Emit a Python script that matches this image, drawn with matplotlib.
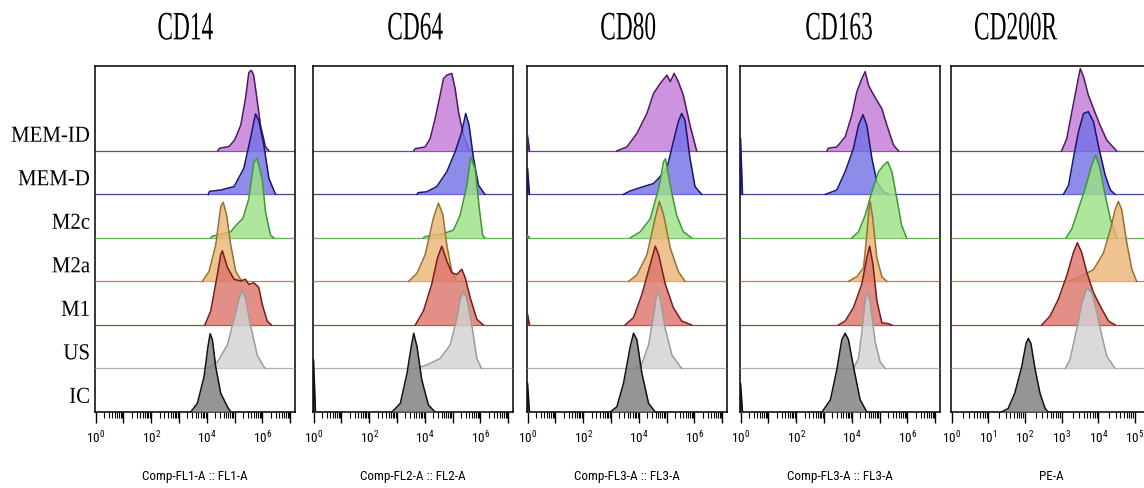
import numpy as np
import matplotlib
matplotlib.use("Agg")
import matplotlib.pyplot as plt
from matplotlib.patheffects import AbstractPathEffect
from matplotlib.transforms import Affine2D, blended_transform_factory

# ---------------------------------------------------------------- data
POPULATIONS = ["MEM-ID", "MEM-D", "M2c", "M2a", "M1", "US", "IC"]
MARKERS = ["CD14", "CD64", "CD80", "CD163", "CD200R"]
CHANNELS = ["Comp-FL1-A :: FL1-A", "Comp-FL2-A :: FL2-A", "Comp-FL3-A :: FL3-A",
            "Comp-FL3-A :: FL3-A", "PE-A"]
MAX_DECADE = [7, 7, 7, 7, 5]
LABELED_DECADES = [[0, 2, 4, 6], [0, 2, 4, 6], [0, 2, 4, 6], [0, 2, 4, 6], [0, 1, 2, 3, 4, 5]]

# each series: (log10 fluorescence, mode-normalised height in row units)
CD14 = {
    "MEM-ID": ([4.40, 4.45, 4.80, 5.00, 5.22, 5.39, 5.51, 5.60, 5.68, 5.77, 5.93, 6.11, 6.23],
               [0, 0.06, 0.10, 0.25, 0.59, 1.20, 1.80, 1.85, 1.75, 1.35, 0.59, 0.09, 0]),
    "MEM-D": ([4.05, 4.10, 4.50, 4.98, 5.33, 5.57, 5.75, 5.87, 6.05, 6.23, 6.47],
              [0, 0.07, 0.10, 0.18, 0.60, 1.29, 1.85, 1.70, 1.13, 0.37, 0]),
    "M2c": ([4.14, 4.20, 4.86, 5.05, 5.30, 5.51, 5.69, 5.81, 5.99, 6.11, 6.29, 6.41],
            [0, 0.04, 0.14, 0.29, 0.45, 0.90, 1.75, 1.82, 1.36, 0.60, 0.06, 0]),
    "M2a": ([3.84, 4.08, 4.32, 4.50, 4.59, 4.71, 4.86, 5.04, 5.22, 5.33],
            [0, 0.23, 0.84, 1.72, 1.82, 1.53, 0.84, 0.23, 0.04, 0]),
    "M1": ([3.93, 4.14, 4.38, 4.50, 4.56, 4.74, 4.98, 5.22, 5.39, 5.51, 5.69, 5.87, 5.99, 6.17, 6.32],
           [0, 0.32, 1.16, 1.62, 1.70, 1.32, 1.05, 1.01, 1.05, 0.93, 0.97, 0.86, 0.48, 0.09, 0]),
    "US": ([4.02, 4.38, 4.74, 4.98, 5.16, 5.28, 5.39, 5.57, 5.81, 6.05, 6.11],
           [0, 0.15, 0.54, 1.15, 1.61, 1.80, 1.61, 1.00, 0.31, 0.04, 0]),
    "IC": ([3.42, 3.66, 3.90, 4.04, 4.12, 4.20, 4.32, 4.50, 4.74, 4.86],
           [0, 0.20, 0.81, 1.50, 1.80, 1.66, 1.04, 0.43, 0.12, 0]),
}

CD64 = {
    "MEM-ID": ([3.60, 3.65, 4.01, 4.19, 4.37, 4.55, 4.67, 4.79, 4.97, 5.09, 5.21, 5.39, 5.57, 5.69],
               [0, 0.05, 0.09, 0.28, 0.74, 1.28, 1.66, 1.74, 1.78, 1.43, 0.90, 0.36, 0.05, 0]),
    "MEM-D": ([3.72, 3.76, 4.07, 4.43, 4.79, 5.09, 5.33, 5.47, 5.59, 5.75, 5.93, 6.16],
              [0, 0.04, 0.06, 0.18, 0.52, 0.98, 1.44, 1.86, 1.59, 0.83, 0.21, 0]),
    "M2c": ([3.95, 4.00, 4.67, 5.03, 5.27, 5.51, 5.65, 5.81, 5.96, 6.08, 6.16],
            [0, 0.03, 0.10, 0.18, 0.52, 1.21, 1.86, 1.59, 0.67, 0.06, 0]),
    "M2a": ([3.42, 3.72, 4.01, 4.31, 4.49, 4.65, 4.79, 4.97, 5.15],
            [0, 0.19, 0.61, 1.46, 1.80, 1.53, 0.84, 0.23, 0]),
    "M1": ([3.66, 3.95, 4.25, 4.46, 4.61, 4.79, 4.97, 5.15, 5.33, 5.45, 5.63, 5.87, 6.10],
           [0, 0.32, 0.94, 1.55, 1.81, 1.47, 1.20, 1.16, 1.28, 1.09, 0.63, 0.13, 0]),
    "US": ([3.66, 4.07, 4.55, 4.91, 5.15, 5.27, 5.39, 5.51, 5.69, 5.87, 6.04],
           [0, 0.08, 0.23, 0.54, 1.15, 1.61, 1.76, 1.61, 1.00, 0.23, 0]),
    "IC": ([0.0, 0.0, 0.07, 2.82, 3.12, 3.36, 3.51, 3.60, 3.72, 3.89, 4.13, 4.37],
           [0, 1.20, 0, 0, 0.20, 0.89, 1.50, 1.81, 1.50, 0.74, 0.16, 0]),
}

CD80 = {
    "MEM-ID": ([0.0, 0.0, 0.07, 3.21, 3.57, 3.93, 4.29, 4.53, 4.77, 5.01, 5.13, 5.27, 5.42, 5.60, 5.84, 6.08],
               [0, 0.36, 0, 0, 0.09, 0.40, 0.86, 1.32, 1.55, 1.74, 1.59, 1.78, 1.59, 1.28, 0.59, 0]),
    "MEM-D": ([0.0, 0.0, 0.07, 3.45, 3.69, 4.17, 4.53, 4.71, 5.01, 5.24, 5.42, 5.54, 5.66, 5.84, 6.02, 6.26],
              [0, 0.60, 0, 0, 0.08, 0.18, 0.25, 0.37, 0.60, 1.21, 1.67, 1.86, 1.70, 0.83, 0.18, 0]),
    "M2c": ([0.0, 0.0, 0.07, 3.69, 4.05, 4.41, 4.71, 4.89, 4.96, 5.13, 5.36, 5.60, 5.90],
            [0, 0.06, 0, 0, 0.14, 0.44, 1.13, 1.75, 1.82, 1.21, 0.52, 0.14, 0]),
    "M2a": ([3.63, 3.93, 4.29, 4.59, 4.74, 4.89, 5.13, 5.42, 5.66],
            [0, 0.15, 0.61, 1.46, 1.84, 1.53, 0.77, 0.23, 0]),
    "M1": ([0.0, 0.0, 0.07, 3.51, 3.81, 4.11, 4.41, 4.59, 4.71, 4.95, 5.24, 5.54, 5.90],
           [0, 0.25, 0, 0, 0.17, 0.70, 1.39, 1.81, 1.62, 0.94, 0.40, 0.09, 0]),
    "US": ([3.87, 4.11, 4.35, 4.53, 4.65, 4.77, 4.95, 5.19, 5.54],
           [0, 0.11, 0.54, 1.23, 1.76, 1.61, 0.92, 0.31, 0]),
    "IC": ([0.0, 0.0, 0.07, 2.97, 3.21, 3.45, 3.69, 3.81, 3.93, 4.11, 4.35, 4.59],
           [0, 0.66, 0, 0, 0.12, 0.66, 1.50, 1.81, 1.66, 0.89, 0.20, 0]),
}

CD163 = {
    "MEM-ID": ([3.11, 3.15, 3.46, 3.76, 4.00, 4.18, 4.36, 4.48, 4.60, 4.72, 4.90, 5.08, 5.26, 5.50, 5.68],
               [0, 0.06, 0.09, 0.32, 0.82, 1.36, 1.66, 1.82, 1.51, 1.36, 1.16, 0.97, 0.59, 0.13, 0]),
    "MEM-D": ([0.0, 0.0, 0.07, 3.05, 3.46, 3.76, 4.06, 4.24, 4.40, 4.54, 4.72, 4.90, 5.14, 5.32],
              [0, 1.29, 0, 0, 0.10, 0.52, 1.06, 1.59, 1.83, 1.59, 0.83, 0.29, 0.06, 0]),
    "M2c": ([4.00, 4.24, 4.48, 4.72, 4.96, 5.14, 5.29, 5.44, 5.62, 5.79, 5.97],
            [0, 0.14, 0.52, 1.06, 1.52, 1.67, 1.75, 1.52, 0.90, 0.29, 0]),
    "M2a": ([3.88, 4.18, 4.42, 4.54, 4.62, 4.66, 4.75, 4.90, 5.08, 5.26],
            [0, 0.11, 0.31, 1.07, 1.69, 1.84, 1.46, 0.54, 0.11, 0]),
    "M1": ([3.52, 3.76, 4.06, 4.36, 4.54, 4.64, 4.76, 4.90, 5.08, 5.30, 5.44],
           [0, 0.09, 0.40, 0.94, 1.55, 1.81, 1.39, 0.56, 0.05, 0.03, 0]),
    "US": ([4.06, 4.24, 4.36, 4.48, 4.54, 4.66, 4.84, 5.02, 5.20],
           [0, 0.23, 0.84, 1.61, 1.76, 1.53, 0.61, 0.15, 0]),
    "IC": ([0.0, 0.0, 0.07, 2.93, 3.23, 3.46, 3.64, 3.76, 3.88, 4.06, 4.30, 4.54],
           [0, 0.66, 0, 0, 0.28, 0.97, 1.66, 1.81, 1.66, 1.04, 0.28, 0]),
}

CD200R = {
    "MEM-ID": ([3.00, 3.14, 3.28, 3.42, 3.51, 3.60, 3.73, 3.87, 4.05, 4.23, 4.50],
               [0, 0.28, 0.90, 1.51, 1.89, 1.70, 1.28, 0.97, 0.59, 0.25, 0]),
    "MEM-D": ([3.05, 3.19, 3.32, 3.46, 3.60, 3.73, 3.87, 4.00, 4.19, 4.33, 4.46],
              [0, 0.21, 0.83, 1.44, 1.86, 1.90, 1.67, 1.13, 0.44, 0.10, 0]),
    "M2c": ([3.12, 3.28, 3.46, 3.64, 3.82, 3.93, 4.05, 4.19, 4.33, 4.51],
            [0, 0.21, 0.67, 1.13, 1.67, 1.90, 1.59, 0.98, 0.44, 0]),
    "M2a": ([3.19, 3.51, 3.87, 4.14, 4.33, 4.46, 4.55, 4.64, 4.78, 4.92, 5.05],
            [0, 0.11, 0.27, 0.65, 1.19, 1.65, 1.84, 1.65, 0.88, 0.27, 0]),
    "M1": ([2.46, 2.69, 2.91, 3.14, 3.32, 3.43, 3.55, 3.69, 3.87, 4.10, 4.28, 4.46],
           [0, 0.21, 0.59, 1.13, 1.66, 1.89, 1.66, 1.20, 0.74, 0.36, 0.09, 0]),
    "US": ([3.10, 3.23, 3.41, 3.55, 3.69, 3.83, 3.96, 4.10, 4.23, 4.46],
           [0, 0.21, 0.90, 1.51, 1.86, 1.74, 1.29, 0.75, 0.29, 0]),
    "IC": ([1.36, 1.54, 1.72, 1.91, 2.03, 2.09, 2.16, 2.28, 2.41, 2.55, 2.63],
           [0, 0.08, 0.43, 1.04, 1.58, 1.69, 1.58, 0.97, 0.43, 0.08, 0]),
}

PANEL_DATA = [CD14, CD64, CD80, CD163, CD200R]

FILL_COLORS = {"MEM-ID": "#C47BD8", "MEM-D": "#7573E6", "M2c": "#9CE287", "M2a": "#EBB676",
               "M1": "#DC776E", "US": "#D2D2D2", "IC": "#7E7E7E"}
EDGE_COLORS = {"MEM-ID": "#4E1763", "MEM-D": "#17166E", "M2c": "#3E9A2C", "M2a": "#9A7030",
               "M1": "#7A1B17", "US": "#9C9C9C", "IC": "#111111"}

# ---------------------------------------------------------------- styling helpers
class Squeeze(AbstractPathEffect):
    """Horizontally condense a text's glyphs (the reference uses a narrow serif face)."""
    def __init__(self, sx, anchor="center"):
        super().__init__()
        self._sx = sx
        self._anchor = anchor

    def draw_path(self, renderer, gc, tpath, affine, rgbFace=None):
        ext = tpath.get_extents(affine)
        if self._anchor == "right":
            cx = ext.x1
        elif self._anchor == "left":
            cx = ext.x0
        else:
            cx = 0.5 * (ext.x0 + ext.x1)
        t = affine + Affine2D().translate(-cx, 0).scale(self._sx, 1.0).translate(cx, 0)
        renderer.draw_path(gc, tpath, t, rgbFace)


def outline_xy(xs, ys, hs):
    """Break the outline where the histogram lies flat on its baseline."""
    px, py = [xs[0]], [ys[0]]
    for j in range(1, len(xs)):
        if hs[j - 1] == 0 and hs[j] == 0:
            px.append(np.nan)
            py.append(np.nan)
        px.append(xs[j])
        py.append(ys[j])
    return np.array(px), np.array(py)


plt.rcParams["font.family"] = ["Roboto Condensed", "DejaVu Sans"]
SERIF = ["Liberation Serif", "DejaVu Serif"]

W, H = 1144, 488
fig = plt.figure(figsize=(W / 100, H / 100), dpi=100)

PANEL_LEFT_PX = [95, 313, 527, 740, 951]
PANEL_W_PX = 200
AX_TOP_PX, AX_BOT_PX = 66, 412
XMAX = [7.17, 7.17, 7.17, 7.17, 5.44]
TITLE_X = [0.45, 0.51, 0.505, 0.495, 0.32]
NROWS = len(POPULATIONS)
YMAX = 7.95

axes = []
for p, marker in enumerate(MARKERS):
    ax = fig.add_axes([PANEL_LEFT_PX[p] / W, (H - AX_BOT_PX) / H,
                       PANEL_W_PX / W, (AX_BOT_PX - AX_TOP_PX) / H])
    axes.append(ax)
    data = PANEL_DATA[p]
    for i, pop in enumerate(POPULATIONS):
        base = NROWS - 1 - i
        xs, hs = data[pop]
        xs = np.asarray(xs, dtype=float)
        hs = np.asarray(hs, dtype=float)
        ys = base + hs
        z = 2 + 3 * i
        ax.axhline(base, color=EDGE_COLORS[pop], lw=0.9, alpha=0.8, zorder=z)
        ax.fill_between(xs, base, ys, color=FILL_COLORS[pop], alpha=0.82, lw=0, zorder=z + 1)
        ox, oy = outline_xy(xs, ys, hs)
        ax.plot(ox, oy, color=EDGE_COLORS[pop], lw=1.1, zorder=z + 2, solid_joinstyle="round")

    ax.set_xlim(-0.02, XMAX[p])
    ax.set_ylim(0, YMAX)
    ax.set_yticks([])
    majors = list(range(MAX_DECADE[p] + 1))
    ax.set_xticks(majors)
    ax.set_xticklabels([r"$\mathregular{10^{%d}}$" % k if k in LABELED_DECADES[p] else ""
                        for k in majors])
    minors = [k + np.log10(m) for k in majors for m in range(2, 10) if k + np.log10(m) < XMAX[p]]
    ax.set_xticks(minors, minor=True)
    ax.tick_params(axis="x", which="major", direction="out", length=8, width=1.0,
                   pad=5, labelsize=9.5, colors="black")
    ax.tick_params(axis="x", which="minor", direction="out", length=4.5, width=0.8)
    for s in ax.spines.values():
        s.set_linewidth(1.1)
        s.set_color("black")
    ax.set_xlabel(CHANNELS[p], fontsize=9.5)
    ax.xaxis.set_label_coords(0.5, -0.168)

    ax.text(TITLE_X[p], 1.077, marker, transform=ax.transAxes, ha="center", va="baseline",
            fontsize=29, family=SERIF, path_effects=[Squeeze(0.58)])

# row labels left of the first panel
ax0 = axes[0]
trans = blended_transform_factory(ax0.transAxes, ax0.transData)
for i, pop in enumerate(POPULATIONS):
    base = NROWS - 1 - i
    ax0.text(-0.025, base + 0.21, pop, transform=trans, ha="right", va="baseline",
             fontsize=16.5, family=SERIF, path_effects=[Squeeze(0.91, anchor="right")],
             clip_on=False)

fig.savefig("out.png", dpi=100)
